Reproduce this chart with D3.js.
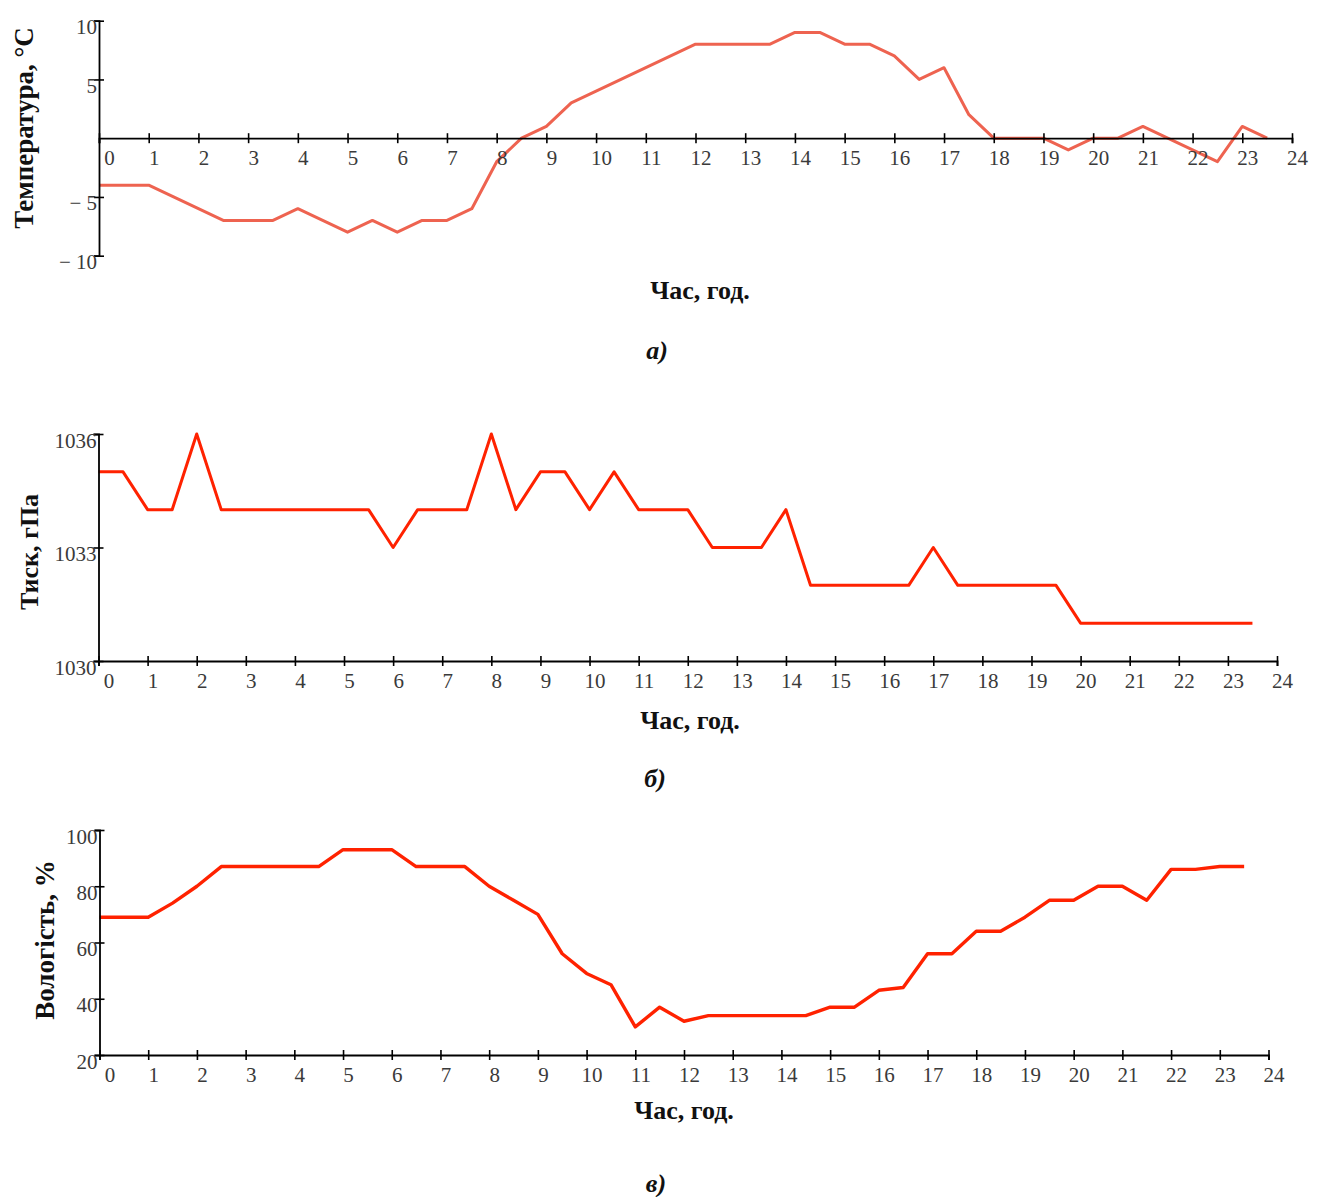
<!DOCTYPE html>
<html><head><meta charset="utf-8">
<script src="https://cdn.jsdelivr.net/npm/d3@7"></script>
<style>body{margin:0;background:#fff}</style>
</head><body>
<svg id="c" width="1318" height="1197"></svg>
<script>
// ---- data ----
const hours = [0,0.5,1,1.5,2,2.5,3,3.5,4,4.5,5,5.5,6,6.5,7,7.5,8,8.5,9,9.5,10,10.5,11,11.5,
               12,12.5,13,13.5,14,14.5,15,15.5,16,16.5,17,17.5,18,18.5,19,19.5,20,20.5,21,21.5,22,22.5,23,23.5];
const temperature = [-4,-4,-4,-5,-6,-7,-7,-7,-6,-7,-8,-7,-8,-7,-7,-6,-2,0,1,3,4,5,6,7,
                     8,8,8,8,9,9,8,8,7,5,6,2,0,0,0,-1,0,0,1,0,-1,-2,1,0];
const pressure = [1035,1035,1034,1034,1036,1034,1034,1034,1034,1034,1034,1034,1033,1034,1034,1034,1036,1034,1035,1035,1034,1035,1034,1034,
                  1034,1033,1033,1033,1034,1032,1032,1032,1032,1032,1033,1032,1032,1032,1032,1032,1031,1031,1031,1031,1031,1031,1031,1031];
const humidity = [69,69,69,74,80,87,87,87,87,87,93,93,93,87,87,87,80,75,70,56,49,45,30,37,
                  32,34,34,34,34,34,37,37,43,44,56,56,64,64,69,75,75,80,80,75,86,86,87,87];
const hourTicks = [0,1,2,3,4,5,6,7,8,9,10,11,12,13,14,15,16,17,18,19,20,21,22,23,24];
const tempTicks = [-10,-5,5,10];
const tempTickLabels = ["\u2212 10","\u2212 5","5","10"];
const pressureTicks = [1030,1033,1036];
const pressureTickLabels = ["1030","1033","1036"];
const humidityTicks = [20,40,60,80,100];
const humidityTickLabels = ["20","40","60","80","100"];
const xTitle = "Час, год.";
const yTitles = ["Температура, °C","Тиск, гПа","Вологість, %"];
const panelLabels = ["а)","б)","в)"];

// ---- drawing ----
const svg = d3.select("#c");
const FONT = "'Liberation Serif','Times New Roman',serif";
const TICKFS = 21;

function panel(cfg){
  const x = d3.scaleLinear().domain([0,24]).range(cfg.xr);
  const y = d3.scaleLinear().domain(cfg.yd).range(cfg.yr);
  const g = svg.append("g");
  const axisY = y(cfg.xAxisAt);

  // line
  const pts = hours.map((h,i)=>[h,cfg.values[i]]);
  g.append("path").datum(pts)
    .attr("fill","none").attr("stroke",cfg.color).attr("stroke-width",cfg.width)
    .attr("stroke-linejoin","round").attr("stroke-linecap","butt")
    .attr("d", d3.line().x(d=>x(d[0])).y(d=>y(d[1])));

  // x axis
  const xa = g.append("g").attr("transform",`translate(0,${axisY})`)
    .call(d3.axisBottom(x).tickValues(hourTicks).tickSizeOuter(0).tickSize(5).tickFormat(d=>String(d)));
  xa.select(".domain").attr("stroke","#000").attr("stroke-width",1.8);
  xa.selectAll(".tick line").attr("y1",-5).attr("y2",5).attr("stroke","#000").attr("stroke-width",1.6);
  xa.selectAll(".tick text").attr("y",27).attr("dy",null)
    .attr("x",d=>d===0?10:5)
    .attr("font-family",FONT).attr("font-size",TICKFS).attr("fill","#3a3a3a");

  // y axis
  const ya = g.append("g").attr("transform",`translate(${x(0)},0)`)
    .call(d3.axisLeft(y).tickValues(cfg.yt).tickSizeOuter(0).tickSize(5).tickFormat((d,i)=>cfg.ytl[i]));
  ya.select(".domain").attr("stroke","#000").attr("stroke-width",1.8);
  ya.selectAll(".tick line").attr("x1",-5).attr("x2",5).attr("stroke","#000").attr("stroke-width",1.6);
  ya.selectAll(".tick text").attr("x",-2).attr("y",13).attr("dy",null)
    .attr("text-anchor","end")
    .attr("font-family",FONT).attr("font-size",TICKFS).attr("fill","#3a3a3a");

  // titles
  g.append("text").attr("transform",`translate(${cfg.ytPos[0]},${cfg.ytPos[1]}) rotate(-90)`)
    .attr("text-anchor","middle").attr("dominant-baseline","central")
    .attr("font-family",FONT).attr("font-size",cfg.ytSize).attr("font-weight","bold").attr("fill","#111")
    .text(cfg.ytitle);
  g.append("text").attr("x",cfg.xtPos[0]).attr("y",cfg.xtPos[1])
    .attr("text-anchor","middle").attr("dominant-baseline","central")
    .attr("font-family",FONT).attr("font-size",26).attr("font-weight","bold").attr("fill","#111")
    .text(xTitle);
  g.append("text").attr("x",cfg.plPos[0]).attr("y",cfg.plPos[1])
    .attr("text-anchor","middle").attr("dominant-baseline","central")
    .attr("font-family",FONT).attr("font-size",26).attr("font-weight","bold").attr("font-style","italic").attr("fill","#111")
    .text(cfg.plabel);
}

panel({values:temperature, xr:[99,1292], yd:[-10,10], yr:[255.7,20.7], xAxisAt:0,
  yt:tempTicks, ytl:tempTickLabels, color:"#ee6350", width:3,
  ytitle:yTitles[0], ytPos:[24,128], ytSize:27, xtPos:[700,290], plabel:panelLabels[0], plPos:[657,350]});
panel({values:pressure, xr:[98.5,1277], yd:[1030,1036], yr:[661,434], xAxisAt:1030,
  yt:pressureTicks, ytl:pressureTickLabels, color:"#ff2200", width:3,
  ytitle:yTitles[1], ytPos:[29,552], ytSize:26, xtPos:[690,720], plabel:panelLabels[1], plPos:[655,778]});
panel({values:humidity, xr:[99.5,1268.5], yd:[20,100], yr:[1055,830], xAxisAt:20,
  yt:humidityTicks, ytl:humidityTickLabels, color:"#ff2200", width:3.4,
  ytitle:yTitles[2], ytPos:[45,940], ytSize:27, xtPos:[684,1110], plabel:panelLabels[2], plPos:[656,1183]});
</script>
</body></html>
